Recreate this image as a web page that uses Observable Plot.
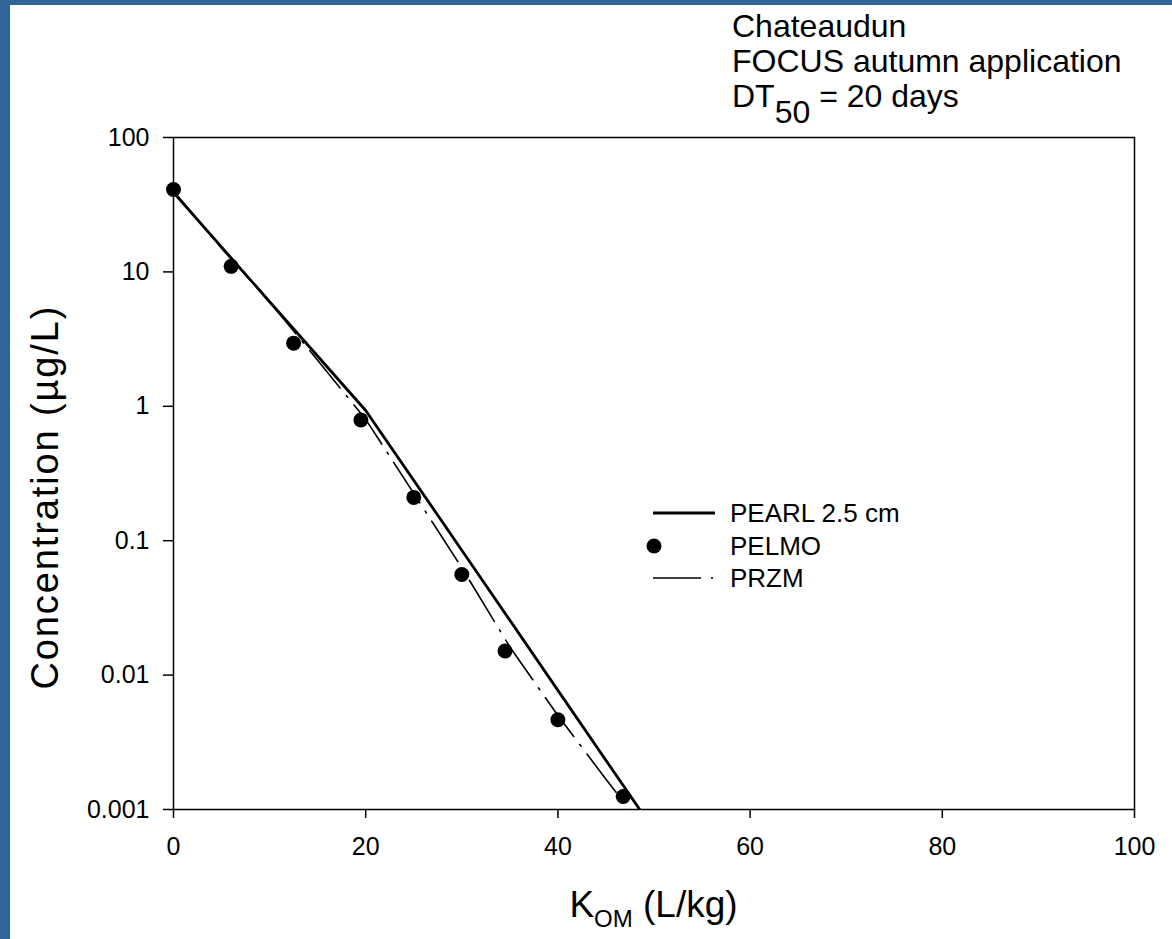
<!DOCTYPE html>
<html><head><meta charset="utf-8">
<script src="https://cdn.jsdelivr.net/npm/d3@7"></script>
<script src="https://cdn.jsdelivr.net/npm/@observablehq/plot@0.6"></script>
<style>
html,body{margin:0;padding:0;background:#fff;}
#wrap{width:1162px;height:934px;border-left:10px solid #2f6598;border-top:5px solid #2f6598;background:#fff;}
#wrap svg{display:block}
</style></head><body><div id="wrap"></div>
<script>
// Data
const titleLines = ["Chateaudun", "FOCUS autumn application"];
const seriesNames = ["PEARL 2.5 cm", "PELMO", "PRZM"];

const pearlKom = [0, 10, 20, 30, 40, 50];
const pearlConc = [39, 6.0, 0.93, 0.085, 0.0077, 0.0007];

const pelmoKom = [0, 6, 12.5, 19.5, 25, 30, 34.5, 40, 46.8];
const pelmoConc = [41, 11, 2.95, 0.79, 0.21, 0.056, 0.0151, 0.00465, 0.00125];

const przmKom = [0, 5, 10, 15, 20, 25, 30, 35, 40, 45, 50];
const przmConc = [40, 15, 6.0, 2.2, 0.80, 0.225, 0.063, 0.0162, 0.0050, 0.00168, 0.00058];

const xTicks = [0, 20, 40, 60, 80, 100];
const yTicks = [100, 10, 1, 0.1, 0.01, 0.001];

const pearl = pearlKom.map((k, i) => ({kom: k, conc: pearlConc[i]}));
const pelmo = pelmoKom.map((k, i) => ({kom: k, conc: pelmoConc[i]}));
const przm = przmKom.map((k, i) => ({kom: k, conc: przmConc[i]}));

const FONT = "'Liberation Sans', Arial, sans-serif";
const W = 1162, H = 934;
const DASH = "48,10,2,10";

const chart = Plot.plot({
  width: W, height: H,
  marginLeft: 163, marginTop: 132, marginRight: 38, marginBottom: 130,
  style: {fontFamily: FONT, fontSize: "25px", color: "#000", background: "#fff", overflow: "visible"},
  x: {domain: [0, 100]},
  y: {type: "log", domain: [0.001, 100]},
  marks: [
    Plot.axisX({ticks: xTicks, tickSize: 9, tickPadding: 19, strokeWidth: 1.5, label: null, tickFormat: d => String(d)}),
    Plot.axisY({ticks: yTicks, tickSize: 10, tickPadding: 14, strokeWidth: 1.5, label: null, tickFormat: d => String(d)}),
    Plot.line(przm, {x: "kom", y: "conc", stroke: "#000", strokeWidth: 1.6, strokeDasharray: DASH, clip: true}),
    Plot.line(pearl, {x: "kom", y: "conc", stroke: "#000", strokeWidth: 2.8, clip: true}),
    Plot.dot(pelmo, {x: "kom", y: "conc", r: 7.5, fill: "#000", stroke: "none"}),
    Plot.frame({stroke: "#000", strokeWidth: 1.5})
  ]
});

document.getElementById("wrap").appendChild(chart);
const svg = d3.select(chart);

// Title block
const tg = svg.append("g").attr("font-family", FONT).attr("font-size", 32)
  .attr("fill", "#000").attr("text-anchor", "start");
titleLines.forEach((t, i) => {
  tg.append("text").attr("x", 722).attr("y", 32 + i * 35).text(t);
});
const dt = tg.append("text").attr("x", 722).attr("y", 102);
dt.append("tspan").text("DT");
dt.append("tspan").attr("dy", 16).text("50");
dt.append("tspan").attr("dy", -16).text(" = 20 days");

// Axis labels
const xl = svg.append("text").attr("font-family", FONT).attr("font-size", 37)
  .attr("text-anchor", "middle").attr("x", 643.5).attr("y", 912);
xl.append("tspan").text("K");
xl.append("tspan").attr("font-size", 24).attr("dy", 10).text("OM");
xl.append("tspan").attr("dy", -10).text(" (L/kg)");

svg.append("text").attr("font-family", FONT).attr("font-size", 38)
  .attr("text-anchor", "middle")
  .attr("transform", "translate(48,493) rotate(-90)")
  .attr("textLength", 383).attr("lengthAdjust", "spacing")
  .text("Concentration (\u00b5g/L)");

// Legend
const lg = svg.append("g").attr("font-family", FONT).attr("font-size", 26).attr("text-anchor", "start");
lg.append("line").attr("x1", 643).attr("x2", 705).attr("y1", 508).attr("y2", 508)
  .attr("stroke", "#000").attr("stroke-width", 2.8);
lg.append("circle").attr("cx", 644).attr("cy", 541).attr("r", 7.5).attr("fill", "#000");
lg.append("line").attr("x1", 643).attr("x2", 705).attr("y1", 573).attr("y2", 573)
  .attr("stroke", "#000").attr("stroke-width", 1.6).attr("stroke-dasharray", DASH);
seriesNames.forEach((n, i) => {
  lg.append("text").attr("x", 720).attr("y", 508 + i * 32.5).attr("dy", "0.35em").text(n);
});
</script>
</body></html>
